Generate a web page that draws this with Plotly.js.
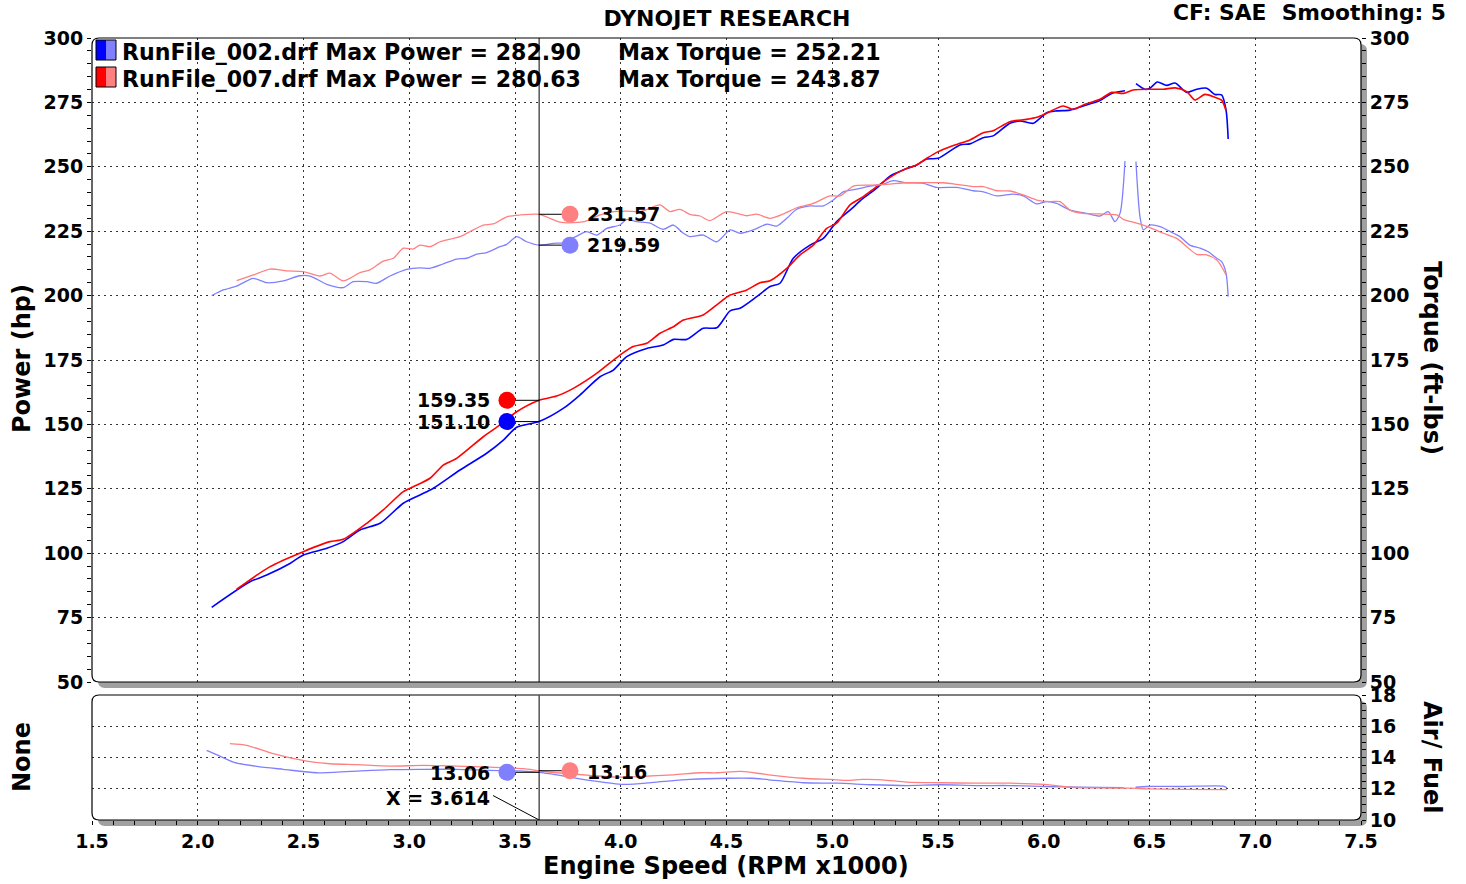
<!DOCTYPE html>
<html><head><meta charset="utf-8">
<script src="https://cdn.plot.ly/plotly-3.0.1.min.js"></script>
<style>html,body{margin:0;padding:0;background:#fff;}#chart{width:1466px;height:884px;}</style>
</head><body><div id="chart"></div>
<script>
// ---------------- data ----------------
const runNames = ['RunFile_002.drf', 'RunFile_007.drf'];
const maxPower = [282.90, 280.63];
const maxTorque = [252.21, 243.87];

const power002_x = [2.066,2.247,2.326,2.436,2.499,2.610,2.688,2.767,2.862,2.972,3.051,3.114,3.240,3.366,3.445,3.508,3.614,3.728,3.807,3.902,3.965,4.028,4.123,4.201,4.249,4.312,4.390,4.454,4.517,4.564,4.643,4.706,4.753,4.816,4.895,4.958,5.021,5.084,5.147,5.210,5.273,5.336,5.399,5.447,5.501,5.604,5.651,5.714,5.761,5.840,5.888,5.951,6.014,6.061,6.124,6.187,6.266,6.321,6.384,null,6.436,6.479,6.502,6.537,6.581,6.621,6.676,6.723,6.770,6.809,6.841,6.862,6.872];
const power002_y = [79.0,88.9,91.5,96.0,99.3,101.9,104.5,109.0,111.6,119.4,122.6,125.2,132.3,138.8,143.9,148.9,151.1,156.2,161.4,168.5,171.1,176.3,179.5,180.8,183.0,183.0,187.3,187.5,194.1,195.1,199.6,203.5,204.8,214.5,219.6,222.2,228.7,233.2,237.8,241.7,246.4,248.8,250.7,253.0,253.3,258.5,258.9,261.3,262.0,266.9,267.8,266.9,271.0,271.7,272.0,273.6,275.7,278.5,279.5,null,282.3,280.1,280.5,282.9,281.6,282.5,278.9,280.1,280.5,278.1,277.9,272.0,260.8];

const power007_x = [2.184,2.342,2.499,2.625,2.688,2.799,2.877,2.972,3.019,3.098,3.161,3.224,3.350,3.429,3.508,3.614,3.697,3.776,3.886,3.996,4.059,4.123,4.186,4.249,4.296,4.390,4.454,4.517,4.596,4.658,4.706,4.785,4.848,4.910,4.974,5.021,5.084,5.147,5.210,5.273,5.336,5.399,5.447,5.501,5.557,5.604,5.651,5.714,5.761,5.840,5.919,5.967,6.014,6.092,6.140,6.187,6.266,6.321,6.376,6.423,6.502,6.565,6.621,6.676,6.715,6.762,6.809,6.841,6.862];
const power007_y = [86.0,94.8,100.6,104.5,105.4,111.6,116.8,123.9,125.8,129.1,134.2,136.8,145.2,149.8,154.9,159.35,161.0,164.0,169.8,176.9,180.2,181.5,185.4,187.9,190.5,192.5,196.4,200.2,202.2,205.0,205.8,210.6,215.8,219.6,226.1,228.1,235.2,238.4,242.3,245.9,248.8,250.7,253.3,255.9,257.8,259.1,260.4,263.2,264.0,267.5,268.4,269.2,270.8,273.6,272.3,274.0,276.2,278.9,278.5,279.8,280.1,280.1,280.63,279.2,275.9,278.1,277.0,275.9,271.8];

const torque002_x = [2.066,2.121,2.184,2.263,2.326,2.405,2.483,2.531,2.610,2.688,2.735,2.799,2.846,2.909,2.988,3.051,3.098,3.161,3.224,3.272,3.319,3.366,3.429,3.461,3.508,3.555,3.614,3.681,3.728,3.792,3.839,3.886,3.934,3.996,4.028,4.075,4.138,4.201,4.249,4.296,4.327,4.390,4.454,4.517,4.564,4.627,4.690,4.737,4.785,4.832,4.895,4.958,5.005,5.052,5.116,5.179,5.241,5.289,5.352,5.431,5.494,5.588,5.667,5.714,5.778,5.856,5.903,5.967,6.014,6.061,6.124,6.203,6.266,6.305,6.337,6.361,6.384,null,6.436,6.455,6.471,6.502,6.550,6.613,6.644,6.691,6.739,6.778,6.818,6.841,6.862,6.872];
const torque002_y = [200.0,202.2,203.7,206.7,205.0,205.7,207.7,207.6,204.4,203.1,205.4,205.4,204.8,207.6,210.2,210.8,210.6,212.3,214.2,214.5,216.1,216.7,219.0,219.9,222.9,220.9,219.59,220.3,220.5,223.1,224.8,223.5,226.1,227.4,229.6,228.7,228.1,225.7,227.4,224.2,222.9,223.5,220.9,225.5,224.2,225.5,227.7,227.0,230.0,233.5,234.8,234.8,237.1,240.3,241.3,242.5,243.3,244.6,243.8,243.6,242.0,242.0,240.7,240.3,238.7,239.4,238.7,235.6,236.5,235.8,233.2,231.9,230.9,232.6,228.7,232.0,252.21,null,252.0,230.6,225.5,227.4,226.8,224.2,222.9,219.6,218.4,217.0,214.5,213.2,208.7,199.6];

const torque007_x = [2.184,2.263,2.342,2.421,2.499,2.578,2.625,2.688,2.767,2.814,2.877,2.925,2.972,3.019,3.051,3.098,3.145,3.193,3.240,3.303,3.350,3.397,3.461,3.524,3.614,3.666,3.713,3.776,3.839,3.902,3.965,4.028,4.091,4.138,4.186,4.233,4.280,4.327,4.375,4.422,4.501,4.596,4.643,4.706,4.769,4.832,4.910,4.989,5.037,5.100,5.179,5.257,5.352,5.447,5.525,5.588,5.667,5.714,5.778,5.840,5.903,5.967,6.030,6.077,6.124,6.187,6.266,6.345,6.376,6.439,6.502,6.565,6.629,6.676,6.723,6.770,6.818,6.841,6.862];
const torque007_y = [205.8,208.0,210.3,209.6,209.3,207.6,208.7,205.7,208.9,210.0,213.4,214.5,218.4,218.1,219.6,219.0,220.9,221.9,222.9,225.5,227.4,227.8,230.6,231.3,231.57,230.0,228.5,228.3,229.0,231.3,232.6,232.8,232.6,233.9,235.2,232.6,233.5,231.5,230.9,229.1,232.6,231.0,231.6,230.0,231.7,234.1,235.8,238.7,238.7,242.5,242.9,243.2,243.8,243.87,243.8,243.2,242.3,242.3,240.7,240.6,239.1,237.1,236.5,236.5,233.2,231.9,231.7,231.3,229.6,228.1,226.4,224.2,222.2,219.0,216.0,215.8,213.8,211.2,208.0];

const afr002_x = [2.042,2.105,2.168,2.279,2.405,2.562,2.720,2.909,3.066,3.224,3.382,3.539,3.614,3.697,3.855,4.012,4.170,4.327,4.505,4.619,4.700,4.863,5.026,5.189,5.352,5.514,5.677,5.840,6.003,6.166,6.378,null,6.434,6.492,6.654,6.849,6.866];
const afr002_y = [14.47,14.10,13.72,13.44,13.25,13.03,13.12,13.23,13.25,13.25,13.18,13.14,13.06,12.90,12.54,12.28,12.43,12.60,12.68,12.68,12.58,12.39,12.36,12.26,12.21,12.26,12.21,12.21,12.15,12.10,12.08,null,12.10,12.15,12.15,12.17,12.06];

const afr007_x = [2.152,2.231,2.357,2.515,2.625,2.752,2.909,3.066,3.224,3.382,3.539,3.614,3.697,3.855,3.981,4.091,4.249,4.375,4.456,4.570,4.700,4.863,4.994,5.075,5.140,5.238,5.352,5.514,5.677,5.840,6.003,6.133,6.247,6.410,6.492,6.654,6.866];
const afr007_y = [14.90,14.79,14.26,13.78,13.61,13.55,13.46,13.50,13.46,13.39,13.29,13.16,13.03,12.86,12.75,12.79,12.90,13.03,13.03,13.12,12.90,12.68,12.60,12.54,12.60,12.58,12.43,12.39,12.36,12.36,12.28,12.10,12.06,12.04,12.00,11.97,11.95];

const cursorX = 3.614;
const cursorPower = [151.10, 159.35];
const cursorTorque = [219.59, 231.57];
const cursorAFR = [13.06, 13.16];

// ---------------- layout helpers ----------------
const W = 1466, H = 884, ML = 92, MR = 105, MT = 38, MB = 64;
const PW = W - ML - MR, PH = H - MT - MB;
const PX = x => (x - ML) / PW;
const PY = y => (H - MB - y) / PH;
function rr(x0, y0, x1, y1, r) {
  const X = PX, Y = PY;
  return `M${X(x0+r)},${Y(y0)} L${X(x1-r)},${Y(y0)} Q${X(x1)},${Y(y0)} ${X(x1)},${Y(y0+r)} ` +
         `L${X(x1)},${Y(y1-r)} Q${X(x1)},${Y(y1)} ${X(x1-r)},${Y(y1)} L${X(x0+r)},${Y(y1)} ` +
         `Q${X(x0)},${Y(y1)} ${X(x0)},${Y(y1-r)} L${X(x0)},${Y(y0+r)} Q${X(x0)},${Y(y0)} ${X(x0+r)},${Y(y0)} Z`;
}

const FONT = 'DejaVu Sans, Verdana, sans-serif';
const BLUE = '#0000ff', RED = '#ff0000', LBLUE = '#8080ff', LRED = '#ff8080';
const markerLeftX = 3.462, markerRightX = 3.760, labelLeftX = 3.386, labelRightX = 3.835;

const mainDomain = [PY(682), 1];
const afrDomain = [0, PY(695.3)];

const tickF = {family: FONT, size: 19, color: '#000', weight: 'bold'};
const GRID = {showgrid: true, gridcolor: '#333', gridwidth: 1, griddash: '2px,4px'};

function line(x, y, xa, ya, color, width) {
  return {type: 'scatter', mode: 'lines', x: x, y: y, xaxis: xa, yaxis: ya,
          line: {color: color, width: width, shape: 'spline', smoothing: 0.7},
          connectgaps: false, hoverinfo: 'skip'};
}
function seg(x, y, ya) {
  return {type: 'scatter', mode: 'lines', x: x, y: y, xaxis: 'x', yaxis: ya,
          line: {color: '#000', width: 1}, hoverinfo: 'skip'};
}
function dot(x, y, ya, color) {
  return {type: 'scatter', mode: 'markers', x: [x], y: [y], xaxis: 'x', yaxis: ya,
          marker: {color: color, size: 17, line: {width: 0}}, hoverinfo: 'skip', cliponaxis: false};
}

const data = [
  line(torque002_x, torque002_y, 'x', 'y2', LBLUE, 1.3),
  line(torque007_x, torque007_y, 'x', 'y2', LRED, 1.3),
  line(power002_x, power002_y, 'x', 'y', BLUE, 1.6),
  line(power007_x, power007_y, 'x', 'y', RED, 1.6),
  line(afr002_x, afr002_y, 'x', 'y3', LBLUE, 1.3),
  line(afr007_x, afr007_y, 'x', 'y3', LRED, 1.3),
  // cursor connectors
  seg([markerLeftX, cursorX], [cursorPower[1], cursorPower[1]], 'y'),
  seg([markerLeftX, cursorX], [cursorPower[0], cursorPower[0]], 'y'),
  seg([cursorX, markerRightX], [cursorTorque[1], cursorTorque[1]], 'y2'),
  seg([cursorX, markerRightX], [cursorTorque[0], cursorTorque[0]], 'y2'),
  seg([markerLeftX, cursorX], [cursorAFR[0], cursorAFR[0]], 'y3'),
  seg([cursorX, markerRightX], [cursorAFR[1], cursorAFR[1]], 'y3'),
  seg([3.396, cursorX], [11.57, 10.0], 'y3'),
  dot(markerLeftX, cursorPower[1], 'y', RED),
  dot(markerLeftX, cursorPower[0], 'y', BLUE),
  dot(markerRightX, cursorTorque[1], 'y2', LRED),
  dot(markerRightX, cursorTorque[0], 'y2', LBLUE),
  dot(markerLeftX, cursorAFR[0], 'y3', LBLUE),
  dot(markerRightX, cursorAFR[1], 'y3', LRED)
];

const baseX = {range: [1.5, 7.5], autorange: false, dtick: 0.5, tick0: 1.5, zeroline: false, showline: false,
               automargin: false, fixedrange: true};
const baseMain = {range: [50, 300], autorange: false, dtick: 25, tick0: 50, zeroline: false, showline: false,
                  automargin: false, fixedrange: true};
const baseAfr = {range: [10, 18], autorange: false, dtick: 2, tick0: 10, zeroline: false, showline: false,
                 automargin: false, fixedrange: true};
const tk = (dir, mdt) => ({ticks: dir, ticklen: 4, tickwidth: 1, tickcolor: '#000',
                           minor: {dtick: mdt, ticks: dir, ticklen: 4, tickwidth: 1, tickcolor: '#000', showgrid: false}});

const layout = {
  width: W, height: H,
  margin: {l: ML, r: MR, t: MT, b: MB, pad: 0},
  paper_bgcolor: '#fff', plot_bgcolor: 'rgba(0,0,0,0)',
  showlegend: false, hovermode: false,
  title: {text: 'DYNOJET RESEARCH', x: 727 / W, xanchor: 'center', y: 1 - 18 / H, yanchor: 'middle',
          font: {family: FONT, size: 22, color: '#000', weight: 'bold'}},
  xaxis: Object.assign({}, baseX, GRID, tk('outside', 0.1), {anchor: 'y3', tickformat: '.1f', tickfont: tickF}),
  xaxis2: Object.assign({}, baseX, tk('inside', 0.1), {overlaying: 'x', anchor: 'y3', showgrid: false, showticklabels: false}),
  xaxis3: Object.assign({}, baseX, tk('inside', 0.1), {overlaying: 'x', anchor: 'y', showgrid: false, showticklabels: false}),
  yaxis: Object.assign({}, baseMain, GRID, tk('outside', 5), {domain: mainDomain, anchor: 'x', side: 'left', tickfont: tickF}),
  yaxis4: Object.assign({}, baseMain, tk('inside', 5), {overlaying: 'y', anchor: 'x', side: 'left', showgrid: false, showticklabels: false}),
  yaxis2: Object.assign({}, baseMain, tk('outside', 5), {overlaying: 'y', anchor: 'x', side: 'right', showgrid: false, tickfont: tickF}),
  yaxis5: Object.assign({}, baseMain, tk('inside', 5), {overlaying: 'y', anchor: 'x', side: 'right', showgrid: false, showticklabels: false}),
  yaxis3: Object.assign({}, baseAfr, GRID, tk('outside', 0.5), {domain: afrDomain, anchor: 'x', side: 'right', tickfont: tickF}),
  yaxis6: Object.assign({}, baseAfr, tk('inside', 0.5), {overlaying: 'y3', anchor: 'x', side: 'right', showgrid: false, showticklabels: false}),
  shapes: [],
  annotations: []
};

// panel frames with drop shadow
const S = 6;
layout.shapes.push(
  {type: 'path', xref: 'paper', yref: 'paper', path: rr(92+S, 38+S, 1361+S, 682+S, 7), fillcolor: '#a0a0a0', line: {width: 0}, layer: 'below'},
  {type: 'path', xref: 'paper', yref: 'paper', path: rr(92, 38, 1361, 682, 7), fillcolor: '#fff', line: {width: 0}, layer: 'below'},
  {type: 'path', xref: 'paper', yref: 'paper', path: rr(92+S, 695+S, 1361+S, 820+S, 7), fillcolor: '#a0a0a0', line: {width: 0}, layer: 'below'},
  {type: 'path', xref: 'paper', yref: 'paper', path: rr(92, 695, 1361, 820, 7), fillcolor: '#fff', line: {width: 0}, layer: 'below'},
  {type: 'path', xref: 'paper', yref: 'paper', path: rr(92, 38, 1361, 682, 7), fillcolor: 'rgba(0,0,0,0)', line: {color: '#000', width: 1.2}, layer: 'above'},
  {type: 'path', xref: 'paper', yref: 'paper', path: rr(92, 695, 1361, 820, 7), fillcolor: 'rgba(0,0,0,0)', line: {color: '#000', width: 1.2}, layer: 'above'},
  // cursor
  {type: 'line', xref: 'x', yref: 'y', x0: cursorX, x1: cursorX, y0: 50, y1: 300, line: {color: '#000', width: 1}, layer: 'above'},
  {type: 'line', xref: 'x', yref: 'y3', x0: cursorX, x1: cursorX, y0: 10, y1: 18, line: {color: '#000', width: 1}, layer: 'above'}
);

// legend swatches
const swatch = [[BLUE, LBLUE, 40], [RED, LRED, 67]];
swatch.forEach(s => {
  const top = s[2], bot = s[2] + 20;
  layout.shapes.push(
    {type: 'rect', xref: 'paper', yref: 'paper', x0: PX(96), x1: PX(106), y0: PY(bot), y1: PY(top), fillcolor: s[0], line: {width: 0}, layer: 'above'},
    {type: 'rect', xref: 'paper', yref: 'paper', x0: PX(106), x1: PX(116), y0: PY(bot), y1: PY(top), fillcolor: s[1], line: {width: 0}, layer: 'above'},
    {type: 'rect', xref: 'paper', yref: 'paper', x0: PX(96), x1: PX(116), y0: PY(bot), y1: PY(top), fillcolor: 'rgba(0,0,0,0)', line: {color: '#000', width: 1}, layer: 'above'}
  );
});

const A = (text, x, y, xref, yref, xanchor, size, angle) => ({
  text: text, x: x, y: y, xref: xref, yref: yref, xanchor: xanchor, yanchor: 'middle',
  showarrow: false, textangle: angle || 0, borderpad: 0,
  font: {family: FONT, size: size, color: '#000', weight: 'bold'}
});

const legY = [52, 79];
runNames.forEach((n, i) => {
  layout.annotations.push(A(`${n} Max Power = ${maxPower[i].toFixed(2)}`, PX(121), PY(legY[i]), 'paper', 'paper', 'left', 22.1));
  layout.annotations.push(A(`Max Torque = ${maxTorque[i].toFixed(2)}`, PX(617), PY(legY[i]), 'paper', 'paper', 'left', 22.1));
});

layout.annotations.push(
  A('CF: SAE\u00a0\u00a0Smoothing: 5', PX(1447), PY(13), 'paper', 'paper', 'right', 21.8),
  A('Power (hp)', PX(22), PY(359), 'paper', 'paper', 'center', 24, -90),
  A('Torque (ft-lbs)', PX(1432), PY(358), 'paper', 'paper', 'center', 24, 90),
  A('None', PX(22), PY(757), 'paper', 'paper', 'center', 24, -90),
  A('Air/ Fuel', PX(1432), PY(757), 'paper', 'paper', 'center', 24, 90),
  A('Engine Speed (RPM x1000)', PX(726), PY(866), 'paper', 'paper', 'center', 24),
  A(cursorPower[1].toFixed(2), labelLeftX, cursorPower[1], 'x', 'y', 'right', 19),
  A(cursorPower[0].toFixed(2), labelLeftX, cursorPower[0], 'x', 'y', 'right', 19),
  A(cursorTorque[1].toFixed(2), labelRightX, cursorTorque[1], 'x', 'y2', 'left', 19),
  A(cursorTorque[0].toFixed(2), labelRightX, cursorTorque[0], 'x', 'y2', 'left', 19),
  A(cursorAFR[0].toFixed(2), labelLeftX, cursorAFR[0] - 0.07, 'x', 'y3', 'right', 19),
  A(cursorAFR[1].toFixed(2), labelRightX, cursorAFR[1] - 0.1, 'x', 'y3', 'left', 19),
  A('X = ' + cursorX.toFixed(3), labelLeftX, 11.44, 'x', 'y3', 'right', 19)
);

Plotly.newPlot('chart', data, layout, {staticPlot: true, displayModeBar: false});
</script>
</body></html>
